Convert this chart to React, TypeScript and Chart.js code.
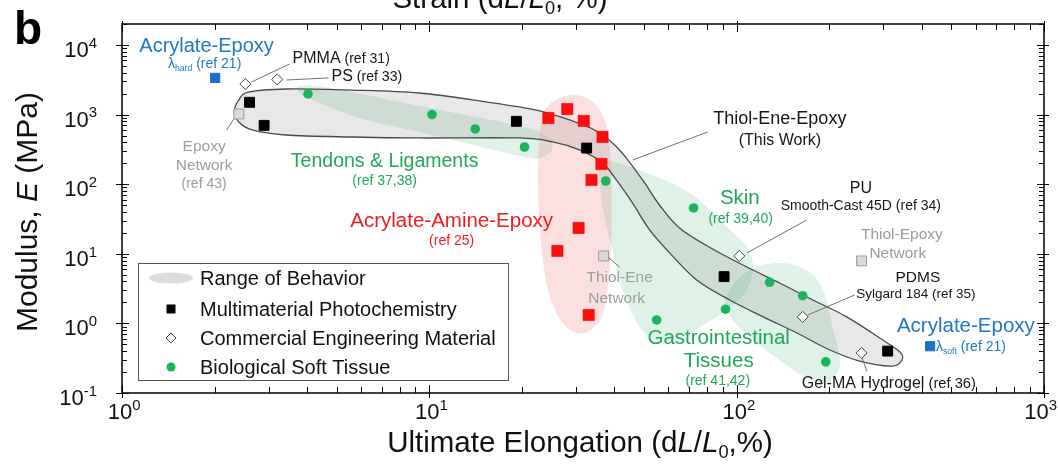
import React, { useEffect, useRef } from 'react';
import { Chart, registerables } from 'chart.js';
Chart.register(...registerables);

const FONT = '"Liberation Sans", Arial, Helvetica, sans-serif';

// ---------- axis ranges / tick labels ----------
const X_MIN = 1, X_MAX = 1000, Y_MIN = 0.1, Y_MAX = 20000;
const xTickExponents = [0, 1, 2, 3];
const yTickExponents = [-1, 0, 1, 2, 3, 4];

// ---------- point data ----------
// Multimaterial Photochemistry (black squares)
const photochemX = [2.6, 2.9, 19.2, 32.5, 91, 310];
const photochemY = [1500, 700, 800, 330, 4.7, 0.4];
// Commercial Engineering Material (open diamonds): PMMA, PS, PU, PDMS, Gel-MA
const commercialX = [2.52, 3.2, 102, 164, 255];
const commercialY = [2750, 3200, 9.3, 1.24, 0.376];
// Biological Soft Tissue (green circles)
const tissueX = [4.03, 10.2, 14.1, 20.4, 37.5, 72.4, 128, 164, 92, 54.9, 195];
const tissueY = [1976, 1000, 621, 342, 111, 45.5, 3.9, 2.5, 1.6, 1.12, 0.28];
// Acrylate-Amine-Epoxy (red squares)
const acrylateAmineX = [24.4, 28.1, 31.8, 36.6, 36.3, 33.7, 30.6, 26.1, 33];
const acrylateAmineY = [893, 1200, 810, 477, 195, 115, 23.5, 11, 1.32];
// Reference networks (grey squares): Epoxy, Thiol-Ene, Thiol-Epoxy
const networkX = [2.4, 36.9, 255];
const networkY = [1020, 9.3, 7.9];
// Acrylate-Epoxy lambda hard / soft (blue squares)
const acrylateEpoxyX = [2.01, 426];
const acrylateEpoxyY = [3360, 0.47];

// ---------- region outlines (data space) ----------
const rangeBand: [number, number][] = [
  [2.32, 1090], [2.4, 1620], [2.59, 2110], [3.42, 2330], [5.61, 2250], [9.28, 2040], [15.3, 1520],
  [22.3, 1160], [28.6, 836], [34.5, 601], [40.1, 366], [44.8, 208], [50.2, 104], [56.1, 50.2],
  [65.2, 23.5], [83.5, 11.7], [108, 6.45], [138, 3.8], [177, 2.17], [228, 1.24], [292, 0.617],
  [340, 0.388], [345, 0.298], [322, 0.244], [257, 0.279], [201, 0.415], [157, 0.728], [122, 1.24],
  [94.9, 2.17], [74.1, 4.21], [60.5, 10.3], [52.1, 22.0], [45.8, 53.7], [40.6, 115], [36.6, 202],
  [30.8, 310], [25.2, 404], [19.6, 461], [9.28, 461], [5.61, 476], [3.42, 509], [2.65, 601], [2.4, 783],
];
const tendonRegion: [number, number][] = [
  [3.78, 2580], [4.73, 2410], [9.29, 1330], [19.7, 685], [24.3, 461], [25.0, 310], [22.9, 238],
  [19.7, 254], [9.29, 562], [5.93, 893], [4.39, 1470], [3.84, 1910],
];
const acrylateAmineRegion: [number, number][] = [
  [28.6, 1910], [34.0, 1520], [37.4, 783], [38.9, 223], [39.2, 30.6], [38.6, 5.85], [36.6, 1.32],
  [32.0, 0.728], [27.5, 0.948], [24.6, 2.56], [23.2, 11.4], [22.6, 82.6], [22.8, 431], [24.0, 1240],
];
const skinRegion: [number, number][] = [
  [35.8, 223], [48.3, 160], [70.3, 74.8], [90.0, 27.7], [108, 12.5], [113, 6.45], [108, 3.02],
  [94.9, 1.72], [79.8, 1.01], [66.7, 0.638], [54.9, 0.577], [48.3, 0.887], [42.5, 3.02], [39.4, 11.4],
  [36.6, 47.0], [35.8, 127],
];
const giRegion: [number, number][] = [
  [138, 7.38], [169, 5.85], [191, 3.02], [205, 0.887], [217, 0.27], [201, 0.154], [169, 0.164],
  [110, 0.638], [92.8, 1.56], [94.9, 3.02], [110, 5.85],
];

// ---------- leader lines (data space) ----------
const leaderLines: [number, number][][] = [
  [[2.64, 2938], [3.51, 5333]],
  [[3.43, 3140], [4.7, 3357]],
  [[2.324, 893], [2.19, 601]],
  [[45.9, 222.7], [80.5, 562]],
  [[107.9, 10.27], [169.1, 30.6]],
  [[170.4, 1.32], [242.3, 2.56]],
  [[255.4, 0.329], [265.2, 0.205]],
  [[37.8, 9.3], [41.6, 6.46]],
];

// ---------- colors ----------
const BLUE = '#2177c8';
const GREEN_TXT = '#20a85a';
const RED_TXT = '#f01c1c';
const GREY_TXT = '#9c9c9c';
const BLACK_TXT = '#161616';
const GREEN_FILL = 'rgba(25,160,85,0.14)';
const RED_FILL = 'rgba(240,70,70,0.17)';
const GREY_FILL = 'rgba(110,110,110,0.16)';

type Seg = { t: string; it?: boolean; b?: boolean; sub?: boolean; sup?: boolean; s?: number };
type Label = { x: number; y: number; segs: Seg[]; size: number; color: string; align: 'left' | 'center' | 'right' };

const textLabels: Label[] = [
  { x: 1.884, y: 10000, segs: [{ t: 'Acrylate-Epoxy' }], size: 20, color: BLUE, align: 'center' },
  { x: 1.857, y: 5513, segs: [{ t: 'λ' }, { t: 'hard', sub: true }, { t: ' (ref 21)' }], size: 14, color: BLUE, align: 'center' },
  { x: 3.589, y: 6725, segs: [{ t: 'PMMA' }, { t: ' (ref 31)', s: 0.88 }], size: 16, color: BLACK_TXT, align: 'left' },
  { x: 4.808, y: 3707, segs: [{ t: 'PS' }, { t: ' (ref 33)', s: 0.88 }], size: 16, color: BLACK_TXT, align: 'left' },
  { x: 1.85, y: 365.8, segs: [{ t: 'Epoxy' }], size: 15.5, color: GREY_TXT, align: 'center' },
  { x: 1.85, y: 195.1, segs: [{ t: 'Network' }], size: 15.5, color: GREY_TXT, align: 'center' },
  { x: 1.85, y: 104, segs: [{ t: '(ref 43)' }], size: 14, color: GREY_TXT, align: 'center' },
  { x: 7.153, y: 222.7, segs: [{ t: 'Tendons & Ligaments' }], size: 19.5, color: GREEN_TXT, align: 'center' },
  { x: 7.153, y: 114.9, segs: [{ t: '(ref 37,38)' }], size: 14, color: GREEN_TXT, align: 'center' },
  { x: 11.82, y: 30.59, segs: [{ t: 'Acrylate-Amine-Epoxy' }], size: 20.5, color: RED_TXT, align: 'center' },
  { x: 11.82, y: 15.79, segs: [{ t: '(ref 25)' }], size: 14, color: RED_TXT, align: 'center' },
  { x: 138.2, y: 893.6, segs: [{ t: 'Thiol-Ene-Epoxy' }], size: 18, color: BLACK_TXT, align: 'center' },
  { x: 138.2, y: 446, segs: [{ t: '(This Work)' }], size: 16, color: BLACK_TXT, align: 'center' },
  { x: 102.4, y: 65.5, segs: [{ t: 'Skin' }], size: 20.5, color: GREEN_TXT, align: 'center' },
  { x: 103.1, y: 32.7, segs: [{ t: '(ref 39,40)' }], size: 14, color: GREEN_TXT, align: 'center' },
  { x: 253.5, y: 91.1, segs: [{ t: 'PU' }], size: 16, color: BLACK_TXT, align: 'center' },
  { x: 253.5, y: 50.2, segs: [{ t: 'Smooth-Cast 45D (ref 34)' }], size: 14, color: BLACK_TXT, align: 'center' },
  { x: 344.7, y: 19.9, segs: [{ t: 'Thiol-Epoxy' }], size: 15.5, color: GREY_TXT, align: 'center' },
  { x: 334.5, y: 10.6, segs: [{ t: 'Network' }], size: 15.5, color: GREY_TXT, align: 'center' },
  { x: 388.6, y: 4.8, segs: [{ t: 'PDMS' }], size: 15.5, color: BLACK_TXT, align: 'center' },
  { x: 382.8, y: 2.734, segs: [{ t: 'Sylgard 184 (ref 35)' }], size: 13.5, color: BLACK_TXT, align: 'center' },
  { x: 556.9, y: 0.948, segs: [{ t: 'Acrylate-Epoxy' }], size: 20.5, color: BLUE, align: 'center' },
  { x: 445, y: 0.4735, segs: [{ t: 'λ' }, { t: 'soft', sub: true }, { t: ' (ref 21)' }], size: 14, color: BLUE, align: 'left' },
  { x: 87.4, y: 0.6378, segs: [{ t: 'Gastrointestinal' }], size: 20.5, color: GREEN_TXT, align: 'center' },
  { x: 87.4, y: 0.2979, segs: [{ t: 'Tissues' }], size: 20.5, color: GREEN_TXT, align: 'center' },
  { x: 86.8, y: 0.1537, segs: [{ t: '(ref 41,42)' }], size: 14, color: GREEN_TXT, align: 'center' },
  { x: 312.7, y: 0.1439, segs: [{ t: 'Gel-MA Hydrogel' }, { t: ' (ref 36)', s: 0.92 }], size: 16, color: BLACK_TXT, align: 'center' },
  { x: 41.6, y: 4.8, segs: [{ t: 'Thiol-Ene' }], size: 15.5, color: GREY_TXT, align: 'center' },
  { x: 40.7, y: 2.395, segs: [{ t: 'Network' }], size: 15.5, color: GREY_TXT, align: 'center' },
];

const legendItems = ['Range of Behavior', 'Multimaterial Photochemistry', 'Commercial Engineering Material', 'Biological Soft Tissue'];

// ---------- drawing helpers ----------
function segFont(seg: Seg, size: number) {
  const sz = (seg.s ?? 1) * size * (seg.sub || seg.sup ? 0.62 : 1);
  return `${seg.it ? 'italic ' : ''}${seg.b ? 'bold ' : ''}${sz}px ${FONT}`;
}
function measureRich(ctx: CanvasRenderingContext2D, segs: Seg[], size: number) {
  let w = 0;
  for (const s of segs) { ctx.font = segFont(s, size); w += ctx.measureText(s.t).width; }
  return w;
}
function drawRich(ctx: CanvasRenderingContext2D, segs: Seg[], x: number, y: number, size: number, color: string, align: string) {
  const w = measureRich(ctx, segs, size);
  let cx = align === 'center' ? x - w / 2 : align === 'right' ? x - w : x;
  ctx.fillStyle = color;
  ctx.textAlign = 'left';
  ctx.textBaseline = 'alphabetic';
  for (const s of segs) {
    ctx.font = segFont(s, size);
    const dy = s.sub ? size * 0.22 : s.sup ? -size * 0.42 : 0;
    ctx.fillText(s.t, cx, y + dy);
    cx += ctx.measureText(s.t).width;
  }
  return w;
}
function smoothClosed(ctx: CanvasRenderingContext2D, pts: [number, number][]) {
  const n = pts.length;
  ctx.moveTo(pts[0][0], pts[0][1]);
  for (let i = 0; i < n; i++) {
    const p0 = pts[(i - 1 + n) % n], p1 = pts[i], p2 = pts[(i + 1) % n], p3 = pts[(i + 2) % n];
    ctx.bezierCurveTo(
      p1[0] + (p2[0] - p0[0]) / 6, p1[1] + (p2[1] - p0[1]) / 6,
      p2[0] - (p3[0] - p1[0]) / 6, p2[1] - (p3[1] - p1[1]) / 6,
      p2[0], p2[1]);
  }
  ctx.closePath();
}
const toPts = (xs: number[], ys: number[]) => xs.map((x, i) => ({ x, y: ys[i] }));

const figurePlugin = {
  id: 'figure',
  beforeDatasetsDraw(chart: any) {
    const ctx: CanvasRenderingContext2D = chart.ctx;
    const a = chart.chartArea;
    const sx = chart.scales.x, sy = chart.scales.y;
    const P = (d: [number, number]): [number, number] => [sx.getPixelForValue(d[0]), sy.getPixelForValue(d[1])];
    ctx.save();
    ctx.beginPath();
    ctx.rect(a.left, a.top, a.right - a.left, a.bottom - a.top);
    ctx.clip();
    const blob = (outline: [number, number][], fill: string, stroke?: string) => {
      ctx.beginPath();
      smoothClosed(ctx, outline.map(P));
      ctx.fillStyle = fill;
      ctx.fill();
      if (stroke) { ctx.strokeStyle = stroke; ctx.lineWidth = 1.3; ctx.stroke(); }
    };
    blob(tendonRegion, GREEN_FILL);
    blob(skinRegion, GREEN_FILL);
    blob(giRegion, GREEN_FILL);
    blob(acrylateAmineRegion, RED_FILL);
    blob(rangeBand, GREY_FILL, '#4a4a4a');
    ctx.strokeStyle = '#707070';
    ctx.lineWidth = 1;
    for (const [p, q] of leaderLines) {
      const [x1, y1] = P(p), [x2, y2] = P(q);
      ctx.beginPath(); ctx.moveTo(x1, y1); ctx.lineTo(x2, y2); ctx.stroke();
    }
    ctx.restore();
  },
  afterDraw(chart: any) {
    const ctx: CanvasRenderingContext2D = chart.ctx;
    const a = chart.chartArea;
    const sx = chart.scales.x, sy = chart.scales.y;
    ctx.save();
    // annotation text
    for (const L of textLabels) {
      const x = sx.getPixelForValue(L.x), y = sy.getPixelForValue(L.y);
      drawRich(ctx, L.segs, x, y + L.size * 0.36, L.size, L.color, L.align);
    }
    // frame
    ctx.strokeStyle = '#000';
    ctx.lineWidth = 1.5;
    ctx.strokeRect(a.left, a.top, a.right - a.left, a.bottom - a.top);
    ctx.lineWidth = 1;
    ctx.beginPath();
    for (let d = -1; d <= 4; d++) {
      for (let k = 1; k <= 9; k++) {
        const v = k * Math.pow(10, d);
        if (v < Y_MIN - 1e-9 || v > Y_MAX) continue;
        const y = Math.round(sy.getPixelForValue(v)) + 0.5;
        if (k === 1) {
          ctx.moveTo(a.left - 6, y); ctx.lineTo(a.left + 7, y);
          ctx.moveTo(a.right - 7, y); ctx.lineTo(a.right + 5, y);
        } else {
          ctx.moveTo(a.left, y); ctx.lineTo(a.left + 5, y);
          ctx.moveTo(a.right - 5, y); ctx.lineTo(a.right, y);
        }
      }
    }
    for (let d = 0; d <= 3; d++) {
      for (let k = 1; k <= 9; k++) {
        const v = k * Math.pow(10, d);
        if (v > X_MAX) continue;
        const x = Math.round(sx.getPixelForValue(v)) + 0.5;
        if (k === 1) {
          ctx.moveTo(x, a.bottom + 5); ctx.lineTo(x, a.bottom - 8);
          ctx.moveTo(x, a.top - 3); ctx.lineTo(x, a.top + 8);
        } else {
          ctx.moveTo(x, a.bottom); ctx.lineTo(x, a.bottom - 6);
          ctx.moveTo(x, a.top); ctx.lineTo(x, a.top + 6);
        }
      }
    }
    ctx.stroke();
    // tick labels
    for (const e of yTickExponents) {
      const y = sy.getPixelForValue(Math.pow(10, e));
      const segs: Seg[] = [{ t: '10' }, { t: String(e), sup: true, s: 1.1 }];
      drawRich(ctx, segs, a.left - 25, y + 12, 22, '#111', 'right');
    }
    for (const e of xTickExponents) {
      const x = sx.getPixelForValue(Math.pow(10, e));
      ctx.font = `22px ${FONT}`;
      const w10 = ctx.measureText('10').width;
      const segs: Seg[] = [{ t: '10' }, { t: String(e), sup: true, s: 1.1 }];
      const total = measureRich(ctx, segs, 22);
      let left = x - 2 - w10 / 2;
      if (left + total > 1057) left = 1057 - total;
      drawRich(ctx, segs, left, 419, 22, '#111', 'left');
    }
    // axis titles
    drawRich(ctx, [{ t: 'Ultimate Elongation (d' }, { t: 'L', it: true }, { t: '/' }, { t: 'L', it: true }, { t: '0', sub: true }, { t: ',%)' }],
      580, 452, 29.5, '#111', 'center');
    drawRich(ctx, [{ t: 'Strain (d' }, { t: 'L', it: true }, { t: '/' }, { t: 'L', it: true }, { t: '0', sub: true }, { t: ', %)' }],
      500, 8, 29.5, '#111', 'center');
    ctx.save();
    ctx.translate(37, 212);
    ctx.rotate(-Math.PI / 2);
    drawRich(ctx, [{ t: 'Modulus, ' }, { t: 'E', it: true }, { t: ' (MPa)' }], 0, 0, 30, '#111', 'center');
    ctx.restore();
    // panel letter
    ctx.font = `bold 46px ${FONT}`;
    ctx.fillStyle = '#000';
    ctx.textAlign = 'left';
    ctx.textBaseline = 'alphabetic';
    ctx.fillText('b', 14, 44);
    // legend
    const lx = a.left + 16, ly = 263, lw = 370, lh = 117;
    ctx.fillStyle = '#fff';
    ctx.fillRect(lx, ly, lw, lh);
    ctx.strokeStyle = '#555';
    ctx.lineWidth = 1;
    ctx.strokeRect(lx + 0.5, ly + 0.5, lw, lh);
    const rows = [278, 309, 338, 367];
    const mx = lx + 33;
    ctx.fillStyle = '#dcdcdc';
    ctx.beginPath(); ctx.ellipse(mx, rows[0], 22, 5.5, 0, 0, Math.PI * 2); ctx.fill();
    ctx.fillStyle = '#000';
    ctx.fillRect(mx - 4.5, rows[1] - 4.5, 9, 9);
    ctx.fillStyle = '#fff'; ctx.strokeStyle = '#444';
    ctx.beginPath(); ctx.moveTo(mx, rows[2] - 5); ctx.lineTo(mx + 5, rows[2]); ctx.lineTo(mx, rows[2] + 5); ctx.lineTo(mx - 5, rows[2]); ctx.closePath();
    ctx.fill(); ctx.stroke();
    ctx.fillStyle = '#1eb35a';
    ctx.beginPath(); ctx.arc(mx, rows[3], 4.5, 0, Math.PI * 2); ctx.fill();
    legendItems.forEach((t, i) => drawRich(ctx, [{ t }], lx + 62, rows[i] + 7, 20, '#111', 'left'));
    ctx.restore();
  },
};

export default function App() {
  const ref = useRef<HTMLCanvasElement | null>(null);
  useEffect(() => {
    document.body.style.margin = '0';
    const canvas = ref.current!;
    const chart = new Chart(canvas, {
      type: 'scatter',
      data: {
        datasets: [
          { label: 'Multimaterial Photochemistry', data: toPts(photochemX, photochemY), pointStyle: 'rect', pointRadius: 7, backgroundColor: '#000', borderColor: '#000', borderWidth: 1 },
          { label: 'Commercial Engineering Material', data: toPts(commercialX, commercialY), pointStyle: 'rectRot', pointRadius: 5.5, backgroundColor: '#fff', borderColor: '#444', borderWidth: 1 },
          { label: 'Reference Networks', data: toPts(networkX, networkY), pointStyle: 'rect', pointRadius: 7, backgroundColor: '#dadada', borderColor: '#9a9a9a', borderWidth: 1 },
          { label: 'Acrylate-Epoxy', data: toPts(acrylateEpoxyX, acrylateEpoxyY), pointStyle: 'rect', pointRadius: 6.5, backgroundColor: '#1b6fc8', borderColor: '#1b6fc8', borderWidth: 1 },
          { label: 'Biological Soft Tissue', data: toPts(tissueX, tissueY), pointStyle: 'circle', pointRadius: 4.8, backgroundColor: '#1eb35a', borderColor: '#1eb35a', borderWidth: 0 },
          { label: 'Acrylate-Amine-Epoxy', data: toPts(acrylateAmineX, acrylateAmineY), pointStyle: 'rect', pointRadius: 8, backgroundColor: '#ff0c0c', borderColor: '#e80000', borderWidth: 0.5 },
        ],
      },
      options: {
        animation: false,
        responsive: false,
        maintainAspectRatio: false,
        events: [],
        layout: { padding: { left: 122, top: 24, right: 14, bottom: 71 } },
        scales: {
          x: { type: 'logarithmic', min: X_MIN, max: X_MAX, display: false },
          y: { type: 'logarithmic', min: Y_MIN, max: Y_MAX, display: false },
        },
        plugins: { legend: { display: false }, tooltip: { enabled: false } },
      },
      plugins: [figurePlugin],
    } as any);
    return () => chart.destroy();
  }, []);
  return (
    <div style={{ width: 1058, height: 464 }}>
      <canvas ref={ref} width={1058} height={464} style={{ display: 'block' }} />
    </div>
  );
}
